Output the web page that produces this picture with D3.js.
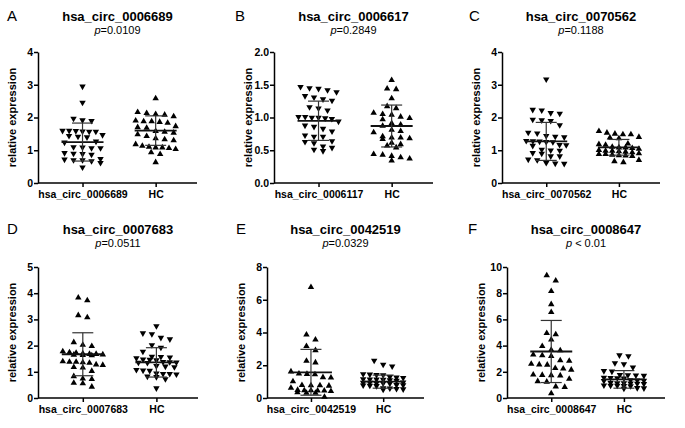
<!DOCTYPE html>
<html>
    <head>
        <meta charset="UTF-8">
        <script src="https://d3js.org/d3.v7.min.js"></script>
        <style>
            body { margin: 0; background: #fff; }
            text { font-family: "Liberation Sans", Arial, sans-serif; fill: #000; }
        </style>
    </head>

    <body>

        <svg id="canvas"></svg>

        <script>

            width = 685;
            height = 428;

            // panel letters, titles, p values
            letters = ["A", "B", "C", "D", "E", "F"];
            titles = ["hsa_circ_0006689", "hsa_circ_0006617", "hsa_circ_0070562",
                      "hsa_circ_0007683", "hsa_circ_0042519", "hsa_circ_0008647"];
            pTexts = ["=0.0109", "=0.2849", "=0.1188", "=0.0511", "=0.0329", " < 0.01"];
            // first category label of each panel (second is always HC)
            caseLabels = ["hsa_circ_0006689", "hsa_circ_0006117", "hsa_circ_0070562",
                          "hsa_circ_0007683", "hsa_circ_0042519", "hsa_circ_0008647"];
            yMax = [4, 2, 4, 5, 8, 10];
            yTicks = [
                [0, 1, 2, 3, 4],
                [0, 0.5, 1, 1.5, 2],
                [0, 1, 2, 3, 4],
                [0, 1, 2, 3, 4, 5],
                [0, 2, 4, 6, 8],
                [0, 2, 4, 6, 8, 10]
            ];
            // case group points down in A-C, up in D-F
            caseUp = [false, false, false, true, true, true];

            // group values (case, HC)
            caseA = [2.93, 2.44, 1.95, 1.9, 1.88, 1.58, 1.58, 1.57, 1.56, 1.55, 1.55, 1.45, 1.42, 1.4, 1.38, 1.25,
                     1.22, 1.08, 1.07, 1.05, 1.05, 0.9, 0.88, 0.87, 0.85, 0.72, 0.7, 0.68, 0.68, 0.65, 0.6, 0.46];
            hcA = [2.6, 2.18, 2.15, 2.12, 2.1, 2.05, 1.92, 1.9, 1.9, 1.88, 1.85, 1.75, 1.72, 1.7, 1.6, 1.58,
                   1.55, 1.5, 1.45, 1.38, 1.35, 1.32, 1.2, 1.15, 1.12, 1.1, 1.1, 1.08, 1.05, 0.95, 0.9, 0.65];
            caseB = [1.46, 1.44, 1.43, 1.41, 1.38, 1.32, 1.3, 1.27, 1.25, 1.15, 1.13, 1.1, 1.0, 1.0, 0.99, 0.99,
                     0.98, 0.97, 0.93, 0.87, 0.85, 0.82, 0.78, 0.72, 0.7, 0.7, 0.63, 0.62, 0.6, 0.55, 0.53, 0.5, 0.48];
            hcB = [1.58, 1.45, 1.44, 1.3, 1.18, 1.15, 1.08, 1.06, 1.05, 1.02, 1.0, 0.98, 0.92, 0.9, 0.88, 0.82,
                   0.8, 0.78, 0.72, 0.7, 0.7, 0.69, 0.68, 0.62, 0.6, 0.58, 0.55, 0.45, 0.44, 0.42, 0.4, 0.38, 0.35];
            caseC = [3.15, 2.22, 2.2, 2.12, 2.1, 1.92, 1.9, 1.88, 1.75, 1.52, 1.5, 1.42, 1.4, 1.38, 1.27, 1.26, 1.25,
                     1.24, 1.23, 1.15, 1.14, 1.12, 1.0, 0.98, 0.97, 0.9, 0.88, 0.8, 0.8, 0.7, 0.68, 0.6, 0.58, 0.57];
            hcC = [1.6, 1.55, 1.52, 1.5, 1.5, 1.42, 1.4, 1.38, 1.22, 1.2, 1.18, 1.12, 1.1, 1.1, 1.08, 1.06,
                   1.02, 1.0, 1.0, 0.98, 0.97, 0.95, 0.92, 0.9, 0.9, 0.88, 0.86, 0.85, 0.84, 0.72, 0.68, 0.65];
            caseD = [3.85, 3.75, 3.18, 3.1, 2.15, 2.05, 2.0, 1.8, 1.76, 1.74, 1.72, 1.7, 1.7, 1.68, 1.67, 1.66, 1.65,
                     1.42, 1.4, 1.4, 1.38, 1.36, 1.3, 1.28, 1.2, 1.18, 1.05, 0.85, 0.76, 0.74, 0.6, 0.58, 0.45];
            hcD = [2.72, 2.45, 2.42, 2.28, 2.22, 2.0, 1.9, 1.75, 1.56, 1.55, 1.53, 1.5, 1.45, 1.44, 1.42, 1.36, 1.35,
                   1.34, 1.33, 1.32, 1.2, 1.18, 1.16, 1.05, 1.03, 1.02, 0.92, 0.9, 0.9, 0.88, 0.8, 0.78, 0.7, 0.35];
            caseE = [6.8, 3.9, 3.6, 3.2, 2.95, 2.3, 2.2, 1.65, 1.52, 1.5, 1.48, 1.3, 1.28, 1.05, 0.82, 0.8, 0.8,
                     0.78, 0.65, 0.52, 0.5, 0.5, 0.48, 0.48, 0.45, 0.38, 0.35, 0.35, 0.1];
            hcE = [2.25, 2.0, 1.9, 1.42, 1.4, 1.38, 1.36, 1.25, 1.22, 1.2, 1.12, 1.1, 1.1, 1.08, 1.05, 1.02, 0.92,
                   0.9, 0.9, 0.88, 0.86, 0.85, 0.76, 0.75, 0.74, 0.72, 0.7, 0.56, 0.55, 0.52, 0.5, 0.48];
            caseF = [9.4, 9.0, 8.2, 7.2, 6.6, 5.0, 4.9, 4.5, 4.0, 3.72, 3.68, 3.35, 3.3, 3.25, 2.92, 2.88, 2.65,
                     2.6, 2.58, 2.32, 2.28, 2.2, 1.82, 1.8, 1.78, 1.76, 1.5, 1.32, 1.28, 0.92, 0.88, 0.4];
            hcF = [3.22, 3.15, 2.62, 2.55, 2.3, 2.02, 1.98, 1.72, 1.7, 1.68, 1.66, 1.52, 1.5, 1.48, 1.46, 1.32, 1.3,
                   1.28, 1.26, 1.12, 1.1, 1.1, 1.08, 1.06, 1.04, 0.92, 0.9, 0.9, 0.88, 0.86, 0.72, 0.7, 0.68];

            caseValues = [caseA, caseB, caseC, caseD, caseE, caseF];
            hcValues = [hcA, hcB, hcC, hcD, hcE, hcF];

            // mean and SD: [case, HC]
            means = [[1.25, 1.6], [0.95, 0.87], [1.27, 1.09], [1.67, 1.36], [1.57, 1.0], [3.55, 1.42]];
            sds = [[0.58, 0.45], [0.3, 0.32], [0.58, 0.24], [0.82, 0.56], [1.4, 0.4], [2.37, 0.67]];

            // panel frames (axis left/right, top row / bottom row)
            frames = [
                {x0: 38, x1: 197, top: 52, bottom: 183},
                {x0: 274, x1: 433, top: 52, bottom: 183},
                {x0: 502, x1: 660, top: 52, bottom: 183},
                {x0: 38, x1: 198, top: 267, bottom: 398},
                {x0: 267, x1: 424, top: 267, bottom: 398},
                {x0: 507, x1: 665, top: 267, bottom: 398}
            ];
            letterX = [7, 235, 469, 7, 236, 468];

            canvas = d3.select("#canvas")
                .attr("width", width)
                .attr("height", height);

            triUp = d3.symbol().type(d3.symbolTriangle).size(18);

            // spread points that share (about) the same height into a row
            function swarm(vals, y, cx) {
                var sorted = vals.slice().sort((a, b) => b - a);
                var rows = [];
                sorted.forEach(function (v) {
                    var last = rows[rows.length - 1];
                    if (last && Math.abs(y(last[0]) - y(v)) < 6.5 && last.length < 7) last.push(v);
                    else rows.push([v]);
                });
                var pts = [];
                rows.forEach(function (r) {
                    var step = r.length > 1 ? Math.min(9, 40 / (r.length - 1)) : 0;
                    r.forEach(function (v, i) {
                        pts.push({x: cx + (i - (r.length - 1) / 2) * step, y: y(v)});
                    });
                });
                return pts;
            }

            frames.forEach(function (f, k) {
                var g = canvas.append("g");
                var textTop = f.top === 52 ? 0 : 213;

                var y = d3.scaleLinear().domain([0, yMax[k]]).range([f.bottom, f.top]);
                var w = f.x1 - f.x0;
                var x = d3.scalePoint()
                    .domain([caseLabels[k], "HC"])
                    .range([f.x0 + 0.28 * w, f.x0 + 0.74 * w]);

                // letter, title, p value
                g.append("text")
                    .attr("x", letterX[k]).attr("y", textTop + 21)
                    .style("font-size", "15px")
                    .text(letters[k]);
                var cx = (f.x0 + f.x1) / 2;
                g.append("text")
                    .attr("x", cx).attr("y", textTop + 21)
                    .attr("text-anchor", "middle")
                    .style("font-size", "13px").style("font-weight", "bold")
                    .text(titles[k]);
                var pt = g.append("text")
                    .attr("x", cx).attr("y", textTop + 34)
                    .attr("text-anchor", "middle")
                    .style("font-size", "11px");
                pt.append("tspan").style("font-style", "italic").text("p");
                pt.append("tspan").text(pTexts[k]);

                // axes
                var fmt = k === 1 ? d3.format(".1f") : d3.format("d");
                var ya = g.append("g")
                    .attr("transform", "translate(" + f.x0 + ",0)")
                    .call(d3.axisLeft(y).tickValues(yTicks[k]).tickFormat(fmt).tickSize(4).tickSizeOuter(0));
                var xa = g.append("g")
                    .attr("transform", "translate(0," + f.bottom + ")")
                    .call(d3.axisBottom(x).tickSize(4).tickSizeOuter(0));
                xa.select(".domain").attr("d", "M" + f.x0 + ",0H" + f.x1);
                [ya, xa].forEach(function (a) {
                    a.selectAll("path, line").attr("stroke", "#000").attr("stroke-width", 1.5);
                    a.selectAll("text")
                        .style("font-family", "'Liberation Sans', Arial, sans-serif")
                        .style("font-size", "10.5px").style("font-weight", "bold")
                        .attr("fill", "#000");
                });
                ya.selectAll("text").attr("x", -5);
                xa.selectAll("text").attr("y", 8);

                g.append("text")
                    .attr("transform", "translate(" + (f.x0 - 22) + "," + ((f.top + f.bottom) / 2) + ") rotate(-90)")
                    .attr("text-anchor", "middle")
                    .style("font-size", "11px").style("font-weight", "bold")
                    .text("relative expression");

                // points
                [caseValues[k], hcValues[k]].forEach(function (vals, j) {
                    var cxg = x(j === 0 ? caseLabels[k] : "HC");
                    var up = j === 0 ? caseUp[k] : !caseUp[k];
                    g.selectAll(null)
                        .data(swarm(vals, y, cxg))
                        .enter()
                            .append("path")
                                .attr("d", triUp)
                                .attr("transform", (d) => "translate(" + d.x + "," + (d.y + (up ? 0.6 : -0.6)) + ")" + (up ? "" : " rotate(180)"))
                                .attr("fill", "#000");

                    // mean and SD
                    var m = means[k][j], s = sds[k][j];
                    g.append("line")
                        .attr("x1", cxg - 21).attr("x2", cxg + 21)
                        .attr("y1", y(m)).attr("y2", y(m))
                        .attr("stroke", "#111").attr("stroke-width", 1.8);
                    g.append("line")
                        .attr("x1", cxg).attr("x2", cxg)
                        .attr("y1", y(Math.max(0, m - s))).attr("y2", y(m + s))
                        .attr("stroke", "#333").attr("stroke-width", 1.2);
                    [m - s, m + s].forEach(function (v) {
                        g.append("line")
                            .attr("x1", cxg - 10.5).attr("x2", cxg + 10.5)
                            .attr("y1", y(v)).attr("y2", y(v))
                            .attr("stroke", "#333").attr("stroke-width", 1.2);
                    });
                });
            });

        </script>

    </body>

</html>
